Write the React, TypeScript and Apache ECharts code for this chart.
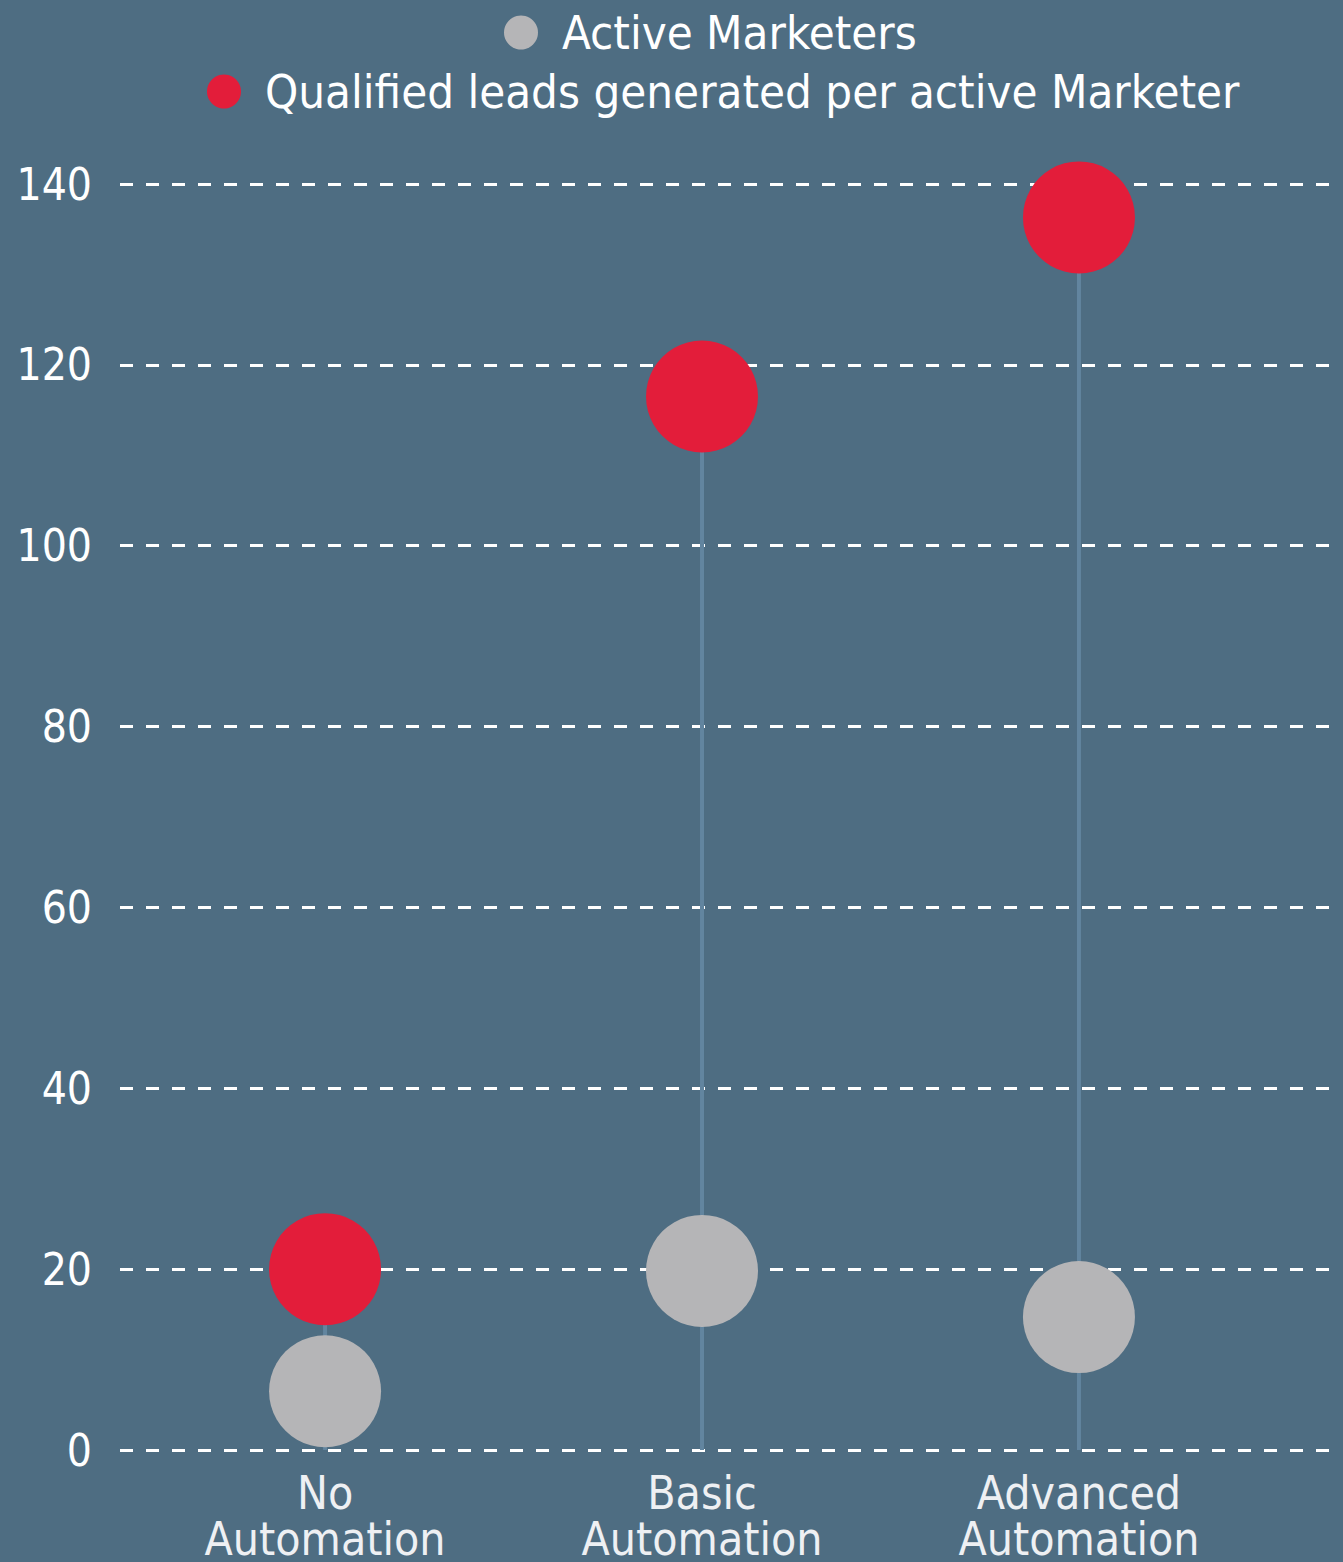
import React, { useEffect, useRef } from "react";
import * as echarts from "echarts";

// Automation level of the marketing team
const categories = ["No\nAutomation", "Basic\nAutomation", "Advanced\nAutomation"];
// Series values per category
const activeMarketers = [6.5, 19.8, 14.7];
const qualifiedLeads = [20, 116.5, 136.3];
const seriesNames = ["Active Marketers", "Qualified leads generated per active Marketer"];
// Value axis range
const yMin = 0;
const yMax = 140;
const yStep = 20;

const FONT = "'DejaVu Sans Condensed', 'DejaVu Sans', sans-serif";
const BG = "#4e6d82";
const RED = "#e31d3a";
const GREY = "#b5b5b7";
const STEM = "#62859f";

export default function App() {
  const ref = useRef<HTMLDivElement>(null);

  useEffect(() => {
    if (!ref.current) return;
    const chart = echarts.init(ref.current, undefined, { renderer: "svg" });

    const legendBase = {
      orient: "horizontal",
      icon: "circle",
      itemWidth: 34,
      itemHeight: 34,
      itemGap: 0,
      selectedMode: false,
      textStyle: {
        color: "#ffffff",
        fontSize: 47,
        fontFamily: FONT,
        padding: [0, 0, 0, 19],
      },
    };

    chart.setOption({
      animation: false,
      backgroundColor: BG,
      legend: [
        { ...legendBase, data: [seriesNames[0]], left: 499, top: 4 },
        { ...legendBase, data: [seriesNames[1]], left: 202, top: 63 },
      ],
      grid: { left: 120, right: 13, top: 184, bottom: 112, containLabel: false },
      xAxis: {
        type: "value",
        min: -0.544,
        max: 2.666,
        axisLine: { show: false },
        axisTick: { show: false },
        splitLine: { show: false },
        axisLabel: {
          customValues: categories.map((_, i) => i),
          formatter: (v: number) => categories[Math.round(v)] ?? "",
          color: "#eef0f3",
          fontSize: 46,
          lineHeight: 46,
          margin: 20,
          fontFamily: FONT,
        },
      },
      yAxis: {
        type: "value",
        min: yMin,
        max: yMax,
        interval: yStep,
        axisLine: { show: false },
        axisTick: { show: false },
        axisLabel: {
          color: "#ffffff",
          fontSize: 44,
          margin: 28,
          fontFamily: FONT,
        },
        splitLine: {
          show: true,
          lineStyle: { color: "#ffffff", width: 3, type: [13, 13] },
        },
      },
      series: [
        {
          name: "stems",
          type: "custom",
          z: 1,
          silent: true,
          data: qualifiedLeads.map((v, i) => [i, v]),
          encode: { x: 0, y: 1 },
          renderItem: (_params: any, api: any) => {
            const x = api.value(0);
            const v = api.value(1);
            const p0 = api.coord([x, 0]);
            const p1 = api.coord([x, v]);
            return {
              type: "line",
              shape: { x1: p0[0], y1: p0[1], x2: p1[0], y2: p1[1] },
              style: { stroke: STEM, lineWidth: 4 },
            };
          },
        },
        {
          name: seriesNames[0],
          type: "scatter",
          z: 3,
          symbol: "circle",
          symbolSize: 112,
          itemStyle: { color: GREY, opacity: 1 },
          data: activeMarketers.map((v, i) => [i, v]),
        },
        {
          name: seriesNames[1],
          type: "scatter",
          z: 4,
          symbol: "circle",
          symbolSize: 112,
          itemStyle: { color: RED, opacity: 1 },
          data: qualifiedLeads.map((v, i) => [i, v]),
        },
      ],
    });

    return () => chart.dispose();
  }, []);

  return (
    <div
      ref={ref}
      style={{ position: "fixed", left: 0, top: 0, width: 1343, height: 1562, background: BG }}
    />
  );
}
